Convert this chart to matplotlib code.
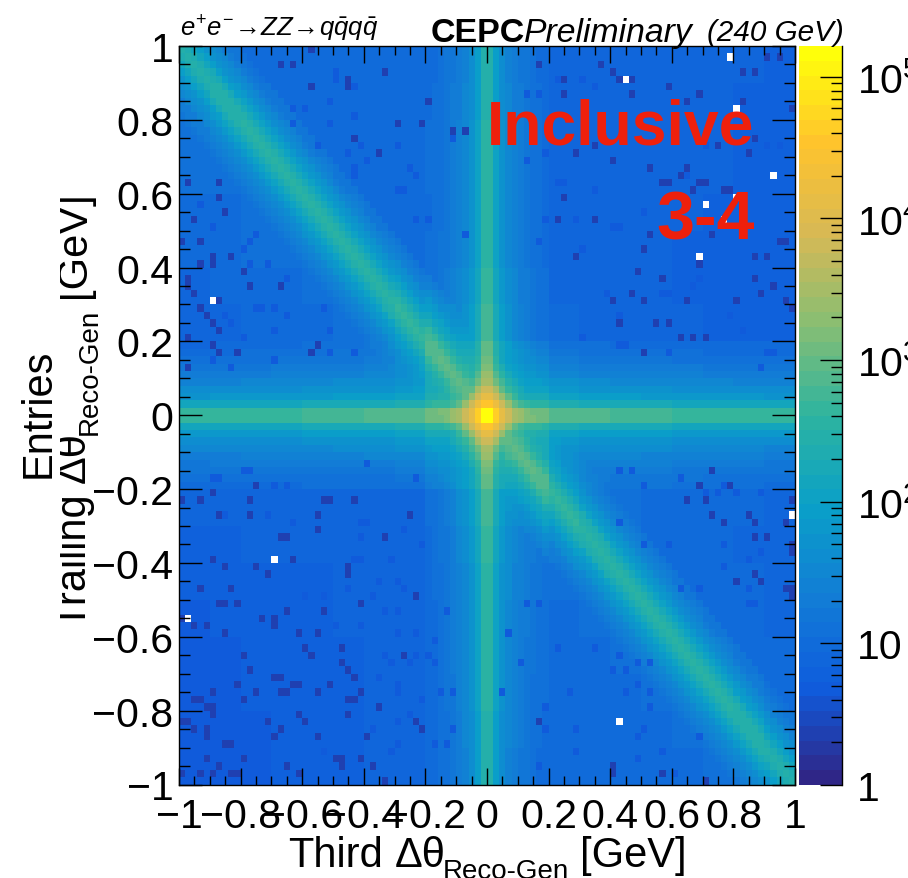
import numpy as np
import matplotlib
matplotlib.use('Agg')
import matplotlib.pyplot as plt
from matplotlib.colors import LinearSegmentedColormap, LogNorm
from matplotlib.ticker import MultipleLocator, FixedLocator, FixedFormatter, NullFormatter
from matplotlib.transforms import Bbox

# Values. Bins are 100x100, (col, row) counted from the top left
# of each quadrant, each quadrant being 50x50.

# background level, one value per 5x5 bins, top row first
bg_levels = [
    [12, 11, 10, 10, 9, 9, 9, 9, 9, 9, 9, 9, 8, 8, 8, 7, 7, 7, 7, 6],
    [13, 12, 11, 10, 10, 9, 9, 9, 9, 9, 9, 9, 8, 8, 8, 7, 7, 7, 6.5, 6],
    [13, 13, 12, 11, 10, 10, 9, 9, 10, 10, 10, 9, 8, 8, 8, 7, 7, 7, 6.5, 6],
    [12, 13, 12, 12, 11, 10, 10, 9, 10, 10, 10, 9, 8, 8, 8, 7, 7, 7, 6.5, 6],
    [11, 11, 13, 12, 12, 11, 10, 10, 9, 9.5, 10, 9, 8, 8, 7.5, 7, 7, 6.5, 6.5, 6],
    [10, 11, 12, 13, 13, 12, 11, 10, 10, 10, 10, 9, 8, 8, 7.5, 7, 6.5, 6.5, 6, 6],
    [8, 9, 10, 11, 12, 13, 12, 11, 10, 10, 11, 9.5, 8.5, 8, 7.5, 7, 6.5, 6.5, 6, 6],
    [7, 8, 9, 10, 11, 12, 13, 12, 11, 11, 11, 10, 9, 8, 7.5, 7, 7, 6.5, 6, 6],
    [6, 7, 8, 8.5, 9.5, 10, 12, 13, 13, 13, 13, 11, 10, 9, 8.5, 8, 8, 7.5, 7, 7],
    [7, 7.5, 8, 8.5, 9, 10, 11, 12, 14, 15, 15, 13, 11, 10, 9, 9, 8.5, 8, 8, 7.5],
    [10, 10, 10, 10, 10, 10, 10, 11, 13, 16, 18, 16, 14, 13, 12, 12, 11, 11, 10, 9.5],
    [9, 9, 9, 9, 9, 9, 9.5, 10, 12, 14, 18, 17, 15, 14, 13, 12, 11, 10, 10, 9],
    [7.5, 7.5, 7.5, 7.5, 7.5, 8, 8, 8.5, 10, 12, 14, 14, 14, 13, 12, 11, 10, 10, 9, 8],
    [6.5, 6.5, 7, 7, 7, 7, 7.5, 8, 9, 11, 12, 13, 13, 13, 12, 11, 10, 9.5, 8.5, 7],
    [5.5, 5.5, 6, 6.5, 6.5, 7, 7, 7.5, 8.5, 10, 11, 12, 12, 13, 13, 12, 11, 10, 9, 8],
    [5, 5.5, 6, 6, 6.5, 7, 7, 7.5, 8.5, 9.5, 10.5, 11, 11, 12, 13, 13, 12, 11, 9.5, 8],
    [5, 5, 5.5, 5.5, 6, 6.5, 7, 7.5, 8, 9, 10, 10.5, 11, 11, 12, 13, 13, 12, 11, 9],
    [5, 5, 5.5, 5.5, 6, 6.5, 7, 7.5, 8, 9, 10, 10, 10, 10.5, 11, 12, 13, 13, 12, 10],
    [4.5, 5, 5, 5.5, 6, 6.5, 7, 7.5, 8, 8.5, 9.5, 9.5, 9.5, 10, 10, 11, 12, 13, 13, 12],
    [4.5, 5, 5, 5.5, 6, 6.5, 7, 7.5, 8, 8.5, 9, 9, 9, 9.5, 10, 10, 11, 12, 13, 13],
]

# height of the theta=0 stripes, per 5 bins away from the centre
stripe_h_peak = [1300, 1300, 800, 650, 600, 550, 500, 470, 450, 430]
stripe_v_peak = [900, 900, 550, 430, 380, 350, 330, 320, 300, 280]
stripe_tail = [1, 0.28, 0.12, 0.07, 0.045, 0.03, 0.02, 0.012, 0.007, 0.004]

# height of the diagonal, per 5 bins away from the centre
diag_peak = [800, 800, 450, 370, 360, 360, 340, 320, 300, 270]
diag_tail = [1, 0.8, 0.5, 0.28, 0.16, 0.1, 0.06, 0.035, 0.02, 0.012]

# the peak, one quarter of it, starting from the four middle bins
core = [
    [150000, 40000, 12000, 6000, 3500, 2200, 1600, 1300],
    [35000, 18000, 6000, 2200, 1000, 550, 380, 300],
    [14000, 6000, 2300, 900, 420, 230, 150, 110],
    [6000, 2800, 1000, 500, 260, 160, 110, 80],
    [3500, 1300, 600, 280, 170, 110, 80, 60],
    [2200, 700, 350, 180, 110, 75, 55, 45],
    [1600, 500, 230, 120, 80, 55, 45, 35],
    [1300, 350, 150, 90, 55, 40, 35, 30],
]

dark_value = 2.5
dark_tl = [(1, 18), (6, 18), (6, 20), (2, 23), (7, 22), (0, 26), (3, 26), (8, 28), (5, 28), (3, 29),
           (5, 29), (10, 30), (1, 31), (1, 32), (11, 32), (16, 32), (2, 33), (6, 34), (3, 35), (4, 36),
           (5, 37), (6, 38), (1, 39), (5, 40), (22, 40), (21, 41), (6, 41), (9, 41), (1, 43), (21, 5),
           (27, 5), (27, 4), (18, 2), (16, 2), (33, 3), (21, 0), (40, 7), (39, 10), (35, 10), (28, 12),
           (32, 14), (44, 11), (46, 11)]
dark_tr = [(8, 2), (18, 2), (12, 4), (21, 4), (23, 4), (20, 3), (29, 5), (12, 6), (23, 6), (34, 6),
           (32, 7), (45, 1), (47, 1), (41, 3), (43, 3), (41, 7), (49, 8), (37, 13), (43, 12), (17, 13),
           (14, 14), (42, 14), (20, 15), (26, 16), (32, 16), (31, 17), (28, 18), (29, 18), (34, 18),
           (35, 18), (33, 19), (38, 19), (39, 19), (12, 20), (11, 23), (17, 23), (26, 25), (36, 25),
           (25, 27), (47, 26), (48, 26), (14, 28), (43, 28), (45, 28), (34, 29), (24, 30), (28, 31),
           (43, 31), (46, 32), (23, 33), (44, 33), (20, 34), (25, 34), (32, 34), (40, 34), (48, 34),
           (49, 35), (27, 37), (29, 37), (35, 39), (25, 41), (31, 39), (33, 39), (21, 37)]
dark_bl = [(0, 11), (3, 11), (11, 11), (23, 11), (24, 11), (28, 11), (5, 10), (12, 9), (11, 13), (22, 13),
           (37, 13), (6, 13), (22, 15), (17, 16), (16, 16), (33, 16), (5, 19), (18, 19), (7, 20), (12, 20),
           (27, 20), (27, 21), (14, 21), (3, 23), (8, 23), (38, 24), (6, 25), (7, 25), (9, 25), (29, 25),
           (17, 26), (23, 26), (0, 27), (13, 27), (15, 27), (15, 28), (4, 28), (2, 28), (7, 29), (19, 29),
           (22, 29), (20, 31), (26, 31), (21, 32), (10, 32), (36, 32), (26, 33), (27, 34), (11, 34), (28, 35),
           (15, 35), (16, 35), (9, 36), (18, 36), (19, 36), (24, 36), (5, 37), (12, 37), (17, 37), (16, 37),
           (22, 37), (29, 37), (2, 38), (3, 38), (10, 38), (27, 38), (28, 38), (4, 39), (5, 39), (32, 39),
           (5, 40), (19, 40), (27, 40), (1, 41), (0, 41), (20, 41), (14, 41), (38, 41), (2, 42), (4, 42),
           (16, 42), (39, 42), (4, 43), (15, 43), (22, 43), (30, 43), (7, 44), (8, 44), (4, 46), (10, 46),
           (25, 46), (26, 46), (29, 46), (6, 47), (17, 47), (26, 47), (31, 47), (0, 48), (3, 48), (5, 48),
           (8, 48), (9, 48), (19, 48), (33, 49)]
dark_br = [(34, 9), (39, 9), (32, 11), (35, 11), (49, 11), (36, 13), (42, 13), (38, 14), (43, 14), (48, 14),
           (43, 16), (45, 16), (49, 17), (49, 18), (43, 21), (44, 22), (40, 22), (49, 23), (49, 24), (48, 23),
           (20, 47), (20, 48), (28, 48), (35, 49), (8, 41), (36, 7)]

# bins a little below their neighbours
low_value = 4.5
low_tl = [(25, 4), (25, 3), (28, 5), (18, 8), (20, 8), (24, 7), (28, 9), (18, 10), (24, 10), (44, 12),
          (27, 14), (30, 15), (28, 16), (28, 17), (22, 13), (29, 13), (35, 13), (37, 16), (38, 17), (35, 19),
          (36, 19), (38, 23), (40, 23), (46, 25), (10, 27), (11, 26), (5, 24), (3, 21), (12, 25), (11, 29),
          (14, 29), (17, 31), (15, 35), (17, 36), (7, 36), (8, 37), (10, 39), (15, 38), (12, 35), (13, 35),
          (24, 38), (15, 42), (8, 43), (5, 42), (28, 41), (24, 41), (23, 35)]
low_tr = [(6, 6), (8, 6), (15, 4), (11, 4), (17, 5), (6, 15), (9, 14), (11, 18), (12, 18), (17, 19),
          (9, 23), (14, 23), (8, 26), (15, 27), (25, 22), (21, 24), (20, 24), (34, 31), (33, 32), (29, 33),
          (28, 33), (19, 33), (21, 36), (15, 39), (21, 40), (22, 40), (29, 41), (44, 43), (39, 36), (41, 38),
          (45, 41), (46, 41), (32, 17), (35, 13), (47, 13), (45, 13)]
low_bl = [(30, 6), (11, 7), (10, 7), (6, 8), (5, 8), (38, 8), (15, 9), (17, 9), (7, 13), (14, 13),
          (18, 14), (30, 14), (29, 14), (36, 15), (29, 16), (39, 17), (29, 19), (28, 19), (34, 19), (32, 22),
          (35, 22), (27, 23), (36, 23), (23, 24), (20, 24), (31, 24), (35, 26), (33, 26), (43, 26), (25, 28),
          (29, 28), (35, 29), (38, 29), (41, 30), (33, 32), (38, 32), (40, 32), (41, 33), (34, 33), (37, 33),
          (32, 35), (35, 36), (35, 37), (42, 37), (44, 37), (39, 38), (37, 40), (35, 41), (44, 42), (31, 42),
          (41, 44), (35, 44), (43, 44), (34, 45), (23, 45)]
low_br = [(21, 7), (23, 7), (31, 8), (25, 9), (38, 9), (35, 10), (37, 10), (44, 10),
          (40, 10), (21, 14), (29, 17), (38, 17), (25, 17), (44, 18), (42, 19), (38, 20), (34, 23), (31, 23),
          (42, 23), (43, 25), (42, 25), (6, 25), (8, 25), (3, 29), (17, 31), (11, 31), (5, 33), (21, 32),
          (20, 34), (22, 34), (24, 33), (26, 33), (2, 37), (13, 37), (22, 37), (26, 37), (24, 36), (9, 39),
          (26, 39), (9, 42), (14, 42), (25, 42), (34, 43), (24, 43), (28, 45), (14, 45), (24, 46), (8, 47),
          (30, 48)]

empty_tl = [(5, 34)]
empty_tr = [(39, 1), (22, 4), (40, 8), (46, 17), (40, 20), (35, 21), (38, 23), (34, 28)]
empty_bl = [(15, 19), (1, 27)]
empty_br = [(49, 13), (21, 41)]

xticks = [-1, -0.8, -0.6, -0.4, -0.2, 0, 0.2, 0.4, 0.6, 0.8, 1]
xticklabels = ['\u22121', '\u22120.8', '\u22120.6', '\u22120.4', '\u22120.2', '0', '0.2', '0.4', '0.6', '0.8', '1']
zticks = [1, 10, 100, 1000, 10000, 100000]
zticklabels = ['1', '10', r'$\mathregular{10^{2}}$', r'$\mathregular{10^{3}}$', r'$\mathregular{10^{4}}$', r'$\mathregular{10^{5}}$']
zmax = 165000

plt.rcParams['font.family'] = ['Liberation Sans', 'DejaVu Sans']
plt.rcParams['mathtext.fontset'] = 'custom'
plt.rcParams['mathtext.rm'] = 'Liberation Sans'
plt.rcParams['mathtext.it'] = 'Liberation Sans:italic'
plt.rcParams['mathtext.bf'] = 'Liberation Sans:bold'

W, H = 908, 879

# build the histogram from the tables above
counts = np.zeros((100, 100))
for row in range(100):
    for col in range(100):
        ci = col - 50 if col >= 50 else 49 - col
        cj = row - 50 if row >= 50 else 49 - row
        val = bg_levels[row // 5][col // 5]
        if ci < len(stripe_tail):
            val += stripe_v_peak[cj // 5] * stripe_tail[ci]
        if cj < len(stripe_tail):
            val += stripe_h_peak[ci // 5] * stripe_tail[cj]
        d = abs(col - row)
        if d < len(diag_tail):
            val += diag_peak[ci // 5] * diag_tail[d]
        if ci < 8 and cj < 8:
            val = max(val, core[cj][ci])
        counts[row, col] = val

for cells, c0, r0 in [(low_tl, 0, 0), (low_tr, 50, 0), (low_bl, 0, 50), (low_br, 50, 50)]:
    for c, r in cells:
        counts[r0 + r, c0 + c] = low_value
for cells, c0, r0 in [(dark_tl, 0, 0), (dark_tr, 50, 0), (dark_bl, 0, 50), (dark_br, 50, 50)]:
    for c, r in cells:
        counts[r0 + r, c0 + c] = dark_value
for cells, c0, r0 in [(empty_tl, 0, 0), (empty_tr, 50, 0), (empty_bl, 0, 50), (empty_br, 50, 50)]:
    for c, r in cells:
        counts[r0 + r, c0 + c] = np.nan

# ROOT kBird, a bit brighter as in the picture
bird = LinearSegmentedColormap.from_list('bird', [
    (0.000, (47 / 255, 38 / 255, 135 / 255)),
    (0.125, (15 / 255, 92 / 255, 221 / 255)),
    (0.250, (18 / 255, 125 / 255, 214 / 255)),
    (0.375, (10 / 255, 160 / 255, 200 / 255)),
    (0.500, (45 / 255, 180 / 255, 160 / 255)),
    (0.625, (135 / 255, 190 / 255, 115 / 255)),
    (0.750, (215 / 255, 185 / 255, 85 / 255)),
    (0.875, (255 / 255, 195 / 255, 45 / 255)),
    (1.000, (255 / 255, 255 / 255, 10 / 255)),
], N=50)
bird.set_bad('white')

fig = plt.figure(figsize=(W / 100, H / 100), dpi=100)
ax = fig.add_axes([179 / W, 1 - 785.5 / H, 616 / W, 738.5 / H])
edges = np.linspace(-1, 1, 101)
mesh = ax.pcolormesh(edges, edges, np.ma.masked_invalid(counts[::-1]), cmap=bird,
                     norm=LogNorm(1, zmax), antialiased=False)
ax.set_xlim(-1, 1)
ax.set_ylim(-1, 1)
ax.xaxis.set_major_locator(FixedLocator(xticks))
ax.xaxis.set_major_formatter(FixedFormatter(xticklabels))
ax.yaxis.set_major_locator(FixedLocator(xticks))
ax.yaxis.set_major_formatter(FixedFormatter(xticklabels))
ax.xaxis.set_minor_locator(MultipleLocator(0.05))
ax.yaxis.set_minor_locator(MultipleLocator(0.05))
ax.tick_params(which='both', direction='in', top=True, right=True, width=1.0, labelsize=29.5)
ax.tick_params(axis='x', which='major', length=12, pad=9)
ax.tick_params(axis='x', which='minor', length=6.5)
ax.tick_params(axis='y', which='major', length=16.5, pad=4)
ax.tick_params(axis='y', which='minor', length=8)
for s in ax.spines.values():
    s.set_linewidth(1.0)

# colour bar
cax = fig.add_axes([799 / W, 1 - 786 / H, 43 / W, 739 / H])
cb = fig.colorbar(mesh, cax=cax)
cb.outline.set_visible(False)
cax.yaxis.set_major_locator(FixedLocator(zticks))
cax.yaxis.set_major_formatter(FixedFormatter(zticklabels))
cax.yaxis.set_minor_locator(FixedLocator([m * 10 ** k for k in range(6) for m in range(2, 10) if m * 10 ** k < zmax]))
cax.yaxis.set_minor_formatter(NullFormatter())
cax.tick_params(which='both', direction='in', width=1.0, labelsize=29.5, right=True, left=False)
cax.tick_params(which='major', length=16, pad=11)
cax.tick_params(which='minor', length=8)
cax.spines['right'].set_visible(True)
cax.spines['right'].set_linewidth(1.0)


def put(x, y, s, **kw):
    return fig.text(x / W, 1 - y / H, s, **kw)


# header
put(180, 36, r'$e^{+}e^{-}\!\rightarrow\! ZZ\!\rightarrow\! q\bar{q}q\bar{q}$', fontsize=18.5)
put(431, 42, 'CEPC', fontsize=24.5, fontweight='bold')
put(524, 42, 'Preliminary', fontsize=24.3, style='italic')
put(707, 41, '(240 GeV)', fontsize=21.3, style='italic')

# labels on the plot
put(754, 145, 'Inclusive', fontsize=45, fontweight='bold', color='#ee200c', ha='right')
put(755, 240, '3-4', fontsize=49, fontweight='bold', color='#ee200c', ha='right')

# x title
put(288, 867, 'Third', fontsize=30)
put(395, 867, '\u0394\u03b8', fontsize=30)
put(443, 879, 'Reco-Gen', fontsize=20)
put(580, 867, '[GeV]', fontsize=30)

# y title, its top is cut off in the original
clip = Bbox([[60, 0], [W, H]])
for x, y, s, size in [(85, 628, 'Trailing', 30), (85, 483, '\u0394\u03b8', 30),
                      (97, 435, 'Reco-Gen', 20), (85, 298, '[GeV]', 30)]:
    t = put(x, y, s, fontsize=size, rotation=90, rotation_mode='anchor', ha='left', va='baseline')
    t.set_clip_box(clip)
    t.set_clip_on(True)
put(50, 478, 'Entries', fontsize=30, rotation=90, rotation_mode='anchor', ha='left', va='baseline')

fig.savefig('out.png', dpi=100)
